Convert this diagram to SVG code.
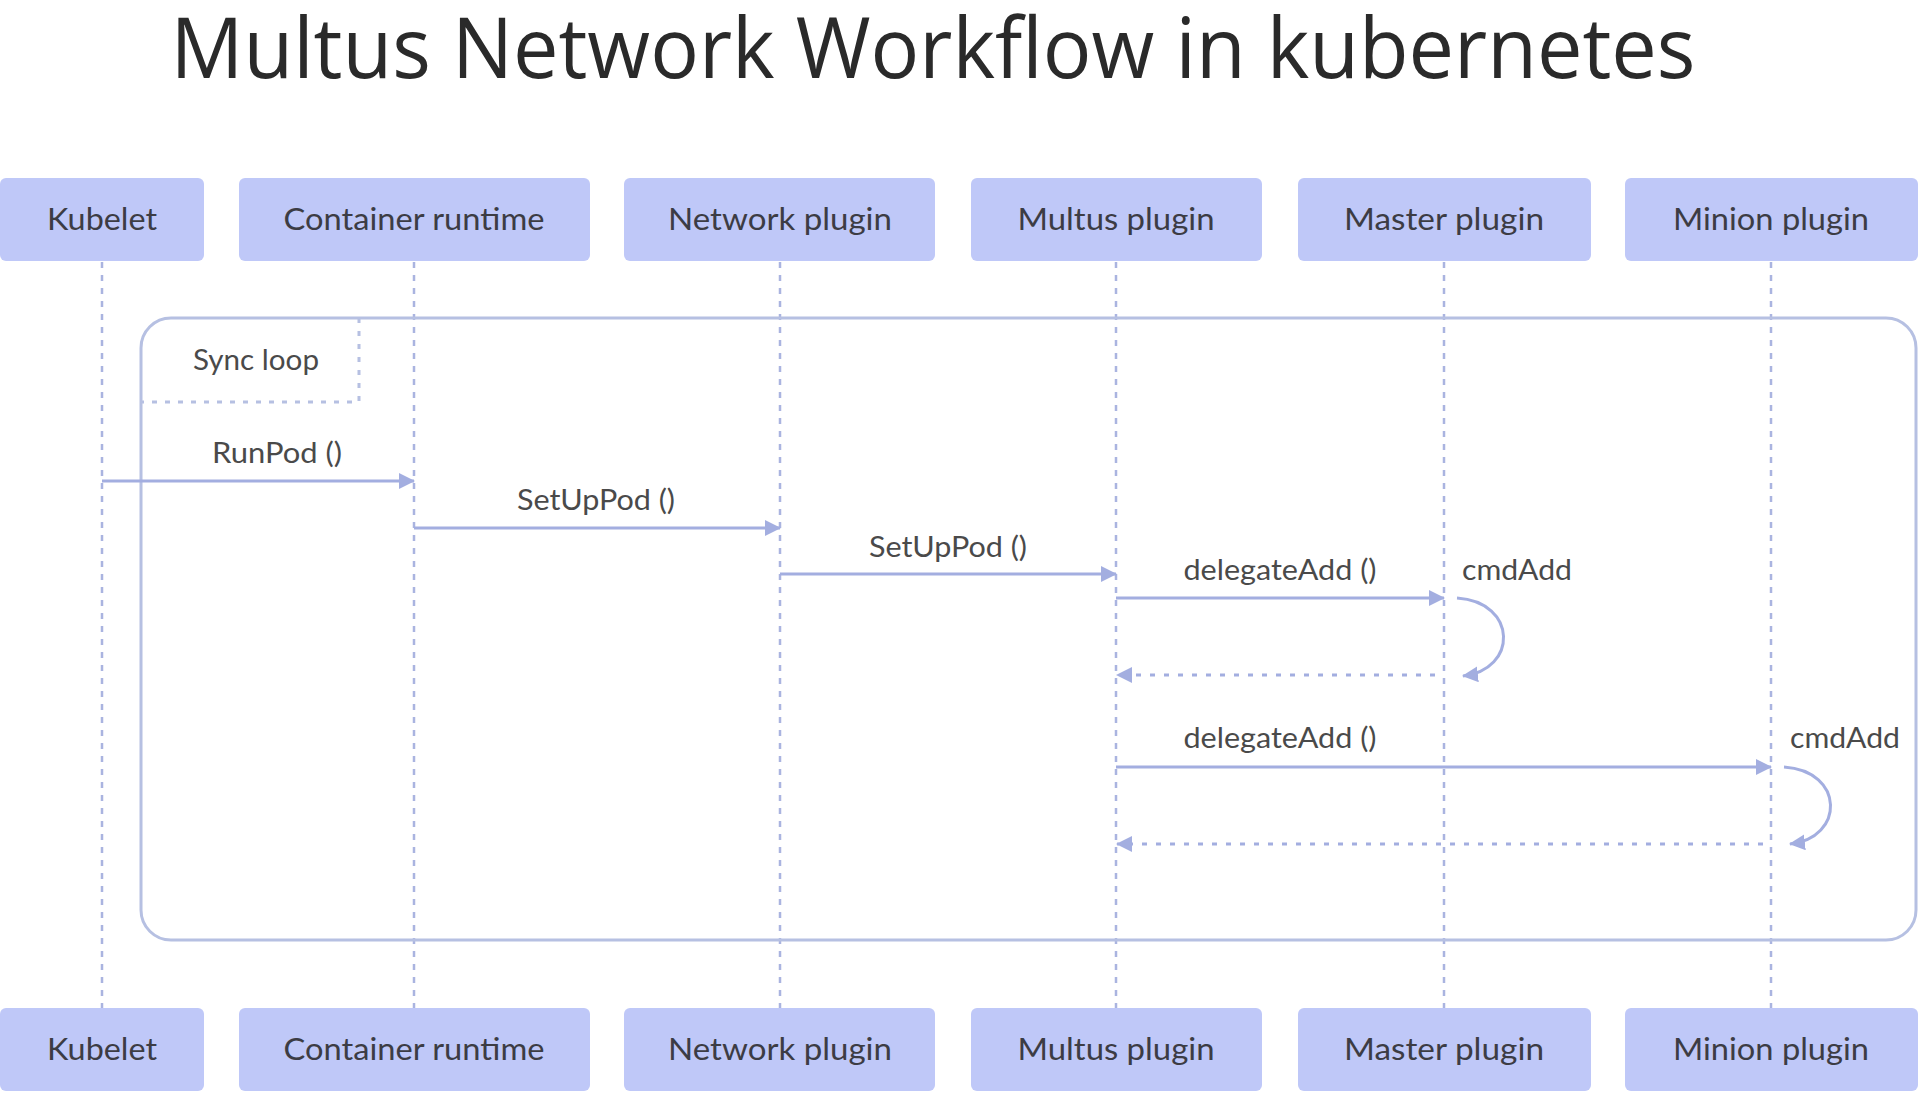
<svg xmlns="http://www.w3.org/2000/svg" width="1920" height="1094" viewBox="0 0 1920 1094">
<style>
.box{fill:#bfc8f8;}
.lbl{font-family:Lato,"Open Sans","Liberation Sans",sans-serif;font-size:30px;fill:#3c3c44;text-anchor:middle;}
.msg{font-family:Lato,"Open Sans","Liberation Sans",sans-serif;font-size:28px;fill:#4a4a4a;text-anchor:middle;}
.st{text-anchor:start;}
.life{stroke:#aab4e0;stroke-width:2.5;stroke-dasharray:6 7;fill:none;}
.frame{stroke:#b6c0e2;stroke-width:3;fill:none;}
.dot{stroke:#b6c0e2;stroke-width:3;stroke-dasharray:5 8;fill:none;}
.arrow{stroke:#a3aee0;stroke-width:3;fill:none;marker-end:url(#ah);}
.ret{stroke:#a3aee0;stroke-width:3;stroke-dasharray:5 9;fill:none;marker-end:url(#ah);}
</style>
<defs>
<marker id="ah" markerUnits="userSpaceOnUse" markerWidth="18" markerHeight="16" refX="15" refY="8" orient="auto">
<path d="M0,0 L16,8 L0,16 z" fill="#a3aee0"/>
</marker>
</defs>
<rect width="1920" height="1094" fill="#ffffff"/>
<text x="933" y="78" font-family="'Open Sans','Noto Sans',sans-serif" font-size="84" fill="#2a2a2a" text-anchor="middle" textLength="1525" lengthAdjust="spacingAndGlyphs">Multus Network Workflow in kubernetes</text>

<g id="lifelines">
<line class="life" x1="102" y1="262" x2="102" y2="1008"/>
<line class="life" x1="414" y1="262" x2="414" y2="1008"/>
<line class="life" x1="780" y1="262" x2="780" y2="1008"/>
<line class="life" x1="1116" y1="262" x2="1116" y2="1008"/>
<line class="life" x1="1444" y1="262" x2="1444" y2="1008"/>
<line class="life" x1="1771" y1="262" x2="1771" y2="1008"/>
</g>

<g id="loop">
<rect class="frame" x="141" y="318" width="1775" height="622" rx="30"/>
<path class="dot" d="M359,318 L359,402 L141,402"/>
<text class="msg" x="256" y="370" textLength="126" lengthAdjust="spacingAndGlyphs">Sync loop</text>
</g>

<g id="kubelet-top"><rect class="box" x="0" y="178" width="204" height="83" rx="6"/><text class="lbl" x="102" y="230" textLength="110" lengthAdjust="spacingAndGlyphs">Kubelet</text></g>
<g id="runtime-top"><rect class="box" x="239" y="178" width="351" height="83" rx="6"/><text class="lbl" x="414" y="230" textLength="261" lengthAdjust="spacingAndGlyphs">Container runtime</text></g>
<g id="network-top"><rect class="box" x="624" y="178" width="311" height="83" rx="6"/><text class="lbl" x="780" y="230" textLength="224" lengthAdjust="spacingAndGlyphs">Network plugin</text></g>
<g id="multus-top"><rect class="box" x="971" y="178" width="291" height="83" rx="6"/><text class="lbl" x="1116" y="230" textLength="197" lengthAdjust="spacingAndGlyphs">Multus plugin</text></g>
<g id="master-top"><rect class="box" x="1298" y="178" width="293" height="83" rx="6"/><text class="lbl" x="1444" y="230" textLength="200" lengthAdjust="spacingAndGlyphs">Master plugin</text></g>
<g id="minion-top"><rect class="box" x="1625" y="178" width="293" height="83" rx="6"/><text class="lbl" x="1771" y="230" textLength="196" lengthAdjust="spacingAndGlyphs">Minion plugin</text></g>

<g id="kubelet-bottom"><rect class="box" x="0" y="1008" width="204" height="83" rx="6"/><text class="lbl" x="102" y="1060" textLength="110" lengthAdjust="spacingAndGlyphs">Kubelet</text></g>
<g id="runtime-bottom"><rect class="box" x="239" y="1008" width="351" height="83" rx="6"/><text class="lbl" x="414" y="1060" textLength="261" lengthAdjust="spacingAndGlyphs">Container runtime</text></g>
<g id="network-bottom"><rect class="box" x="624" y="1008" width="311" height="83" rx="6"/><text class="lbl" x="780" y="1060" textLength="224" lengthAdjust="spacingAndGlyphs">Network plugin</text></g>
<g id="multus-bottom"><rect class="box" x="971" y="1008" width="291" height="83" rx="6"/><text class="lbl" x="1116" y="1060" textLength="197" lengthAdjust="spacingAndGlyphs">Multus plugin</text></g>
<g id="master-bottom"><rect class="box" x="1298" y="1008" width="293" height="83" rx="6"/><text class="lbl" x="1444" y="1060" textLength="200" lengthAdjust="spacingAndGlyphs">Master plugin</text></g>
<g id="minion-bottom"><rect class="box" x="1625" y="1008" width="293" height="83" rx="6"/><text class="lbl" x="1771" y="1060" textLength="196" lengthAdjust="spacingAndGlyphs">Minion plugin</text></g>

<g id="connectors">
<line class="arrow" x1="102" y1="481" x2="414" y2="481"/>
<text class="msg" x="277" y="463" textLength="130" lengthAdjust="spacingAndGlyphs">RunPod ()</text>
<line class="arrow" x1="414" y1="528" x2="780" y2="528"/>
<text class="msg" x="596" y="510" textLength="158" lengthAdjust="spacingAndGlyphs">SetUpPod ()</text>
<line class="arrow" x1="780" y1="574" x2="1116" y2="574"/>
<text class="msg" x="948" y="557" textLength="158" lengthAdjust="spacingAndGlyphs">SetUpPod ()</text>
<line class="arrow" x1="1116" y1="598" x2="1444" y2="598"/>
<text class="msg" x="1280" y="580" textLength="193" lengthAdjust="spacingAndGlyphs">delegateAdd ()</text>
<path class="arrow" d="M1457,598 C1518,602 1518,670 1463,676"/>
<text class="msg st" x="1462" y="580" textLength="110" lengthAdjust="spacingAndGlyphs">cmdAdd</text>
<line class="ret" x1="1435" y1="675" x2="1117" y2="675"/>
<line class="arrow" x1="1116" y1="767" x2="1771" y2="767"/>
<text class="msg" x="1280" y="748" textLength="193" lengthAdjust="spacingAndGlyphs">delegateAdd ()</text>
<path class="arrow" d="M1784,767 C1845,771 1845,838 1790,844"/>
<text class="msg st" x="1790" y="748" textLength="110" lengthAdjust="spacingAndGlyphs">cmdAdd</text>
<line class="ret" x1="1763" y1="844" x2="1117" y2="844"/>
</g>
</svg>
